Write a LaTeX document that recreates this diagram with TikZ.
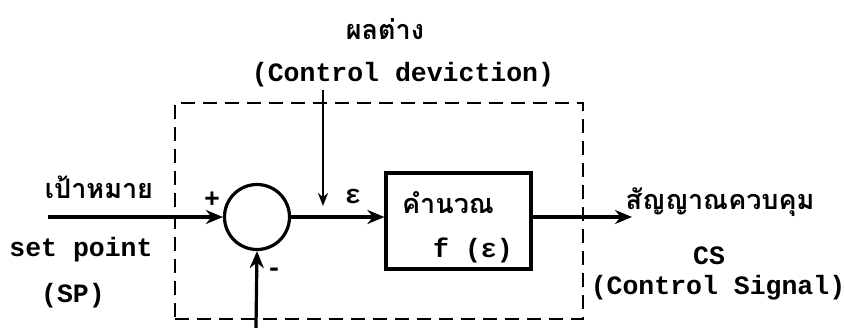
\documentclass[tikz,border=0pt]{standalone}
\usepackage{fontspec}
\setmonofont{Liberation Mono}
\newfontfamily\thaifont[Script=Thai]{Loma}
\usetikzlibrary{arrows.meta}
\begin{document}
\begin{tikzpicture}[x=1pt,y=-1pt,
  lbl/.style={font=\ttfamily\bfseries\fontsize{26.5}{28}\selectfont, inner sep=0pt},
  thlbl/.style={font=\thaifont\bfseries\fontsize{27}{29}\selectfont, inner sep=0pt},
  conn/.style={line width=3.2pt, -{Stealth[length=17pt,width=14pt]}},
  thinconn/.style={line width=2.4pt, -{Stealth[length=13pt,width=10pt]}},
  frame/.style={draw, line width=2.8pt, dash pattern=on 14pt off 8pt, inner sep=0pt},
  block/.style={draw, line width=3.2pt, inner sep=0pt}]
\useasboundingbox (0,0) rectangle (844,328);

% dashed controller frame
\node[frame, minimum width=408pt, minimum height=216pt] (ctrl) at (379,211) {};

% summing junction and function block
\node[block, circle, minimum size=65pt] (sum) at (257,217) {};
\node[block, rectangle, minimum width=145pt, minimum height=96pt] (f) at (458.5,221) {};
\node[thlbl] (calc) at (448,203) {คำนวณ};
\node[lbl] (fe) at (473,250) {f (ε)};

% labels
\node[thlbl] (diffth) at (385,29) {ผลต่าง};
\node[lbl] (dev) at (403,75) {(Control deviction)};
\node[thlbl] (spth) at (99,187) {เป้าหมาย};
\node[lbl] (sp) at (81,250) {set point};
\node[lbl] (spab) at (73,296) {(SP)};
\node[thlbl] (csth) at (720,202) {สัญญาณควบคุม};
\node[lbl] (cs) at (709,256) {CS};
\node[lbl] (csl) at (718,288) {(Control Signal)};
\node[lbl] (plus) at (212,200) {+};
\node[lbl] (minus) at (274,272) {-};
\node[lbl] (eps) at (353,197) {ε};

% connectors
\coordinate (spin) at (48,217);
\coordinate (out) at (632,217);
\coordinate (fbin) at (256,328);
\coordinate (devtop) at (323,90);
\coordinate (devtip) at (323,206);
\draw[conn] (spin) -- (sum.west);
\draw[conn] (sum.east) -- (sum.east -| f.west);
\draw[conn] (sum -| f.east) -- (out);
\draw[conn] (fbin) -- (sum.south);
\draw[thinconn] (devtop) -- (devtip);
\end{tikzpicture}
\end{document}
